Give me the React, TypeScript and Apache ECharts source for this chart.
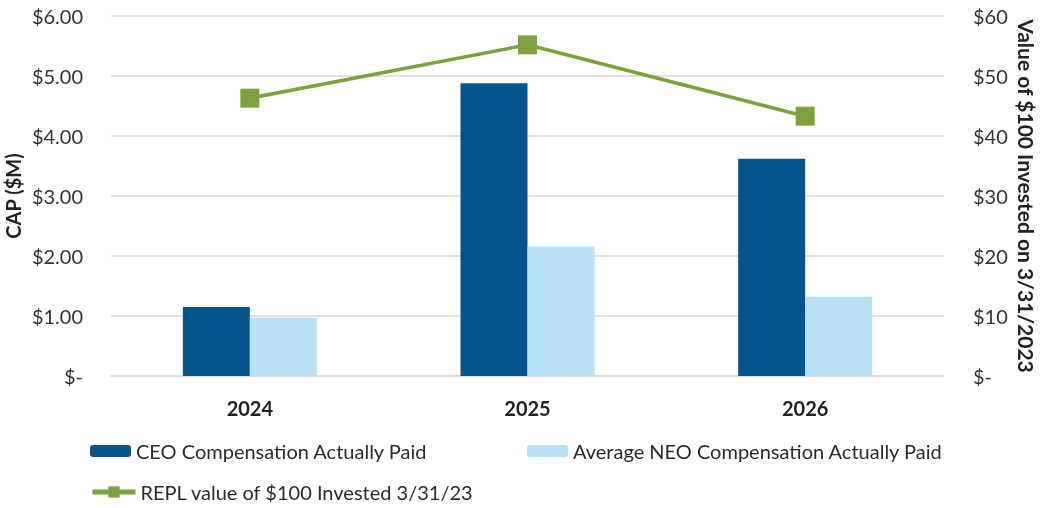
import React, { useEffect, useRef } from "react";
import * as echarts from "echarts";

const categories = ["2024", "2025", "2026"];
const ceoCap = [1.15, 4.88, 3.62];
const neoCap = [0.97, 2.16, 1.32];
const replValue = [46.3, 55.2, 43.3];

const leftTicks = ["$-", "$1.00", "$2.00", "$3.00", "$4.00", "$5.00", "$6.00"];
const rightTicks = ["$-", "$10", "$20", "$30", "$40", "$50", "$60"];

const FONT = "Lato, 'Open Sans', sans-serif";
const CEO_NAME = "CEO Compensation Actually Paid";
const NEO_NAME = "Average NEO Compensation Actually Paid";
const LINE_NAME = "REPL value of $100 Invested 3/31/23";

export default function App() {
  const ref = useRef<HTMLDivElement>(null);
  useEffect(() => {
    if (!ref.current) return;
    const chart = echarts.init(ref.current, null, { renderer: "svg" });
    const legendText = { fontFamily: FONT, fontSize: 20, color: "#2b2b2b" };
    chart.setOption({
      animation: false,
      textStyle: { fontFamily: FONT },
      grid: {
        left: 111,
        right: 96,
        top: 16,
        bottom: 132,
        containLabel: false,
        outerBoundsMode: "none",
      },
      legend: [
        {
          data: [CEO_NAME],
          left: 85,
          top: 436,
          itemWidth: 41,
          itemHeight: 12,
          textStyle: legendText,
          selectedMode: false,
        },
        {
          data: [NEO_NAME],
          left: 522,
          top: 436,
          itemWidth: 41,
          itemHeight: 12,
          textStyle: legendText,
          selectedMode: false,
        },
        {
          data: [LINE_NAME],
          left: 85,
          top: 477,
          itemWidth: 43,
          itemHeight: 14,
          lineStyle: { width: 5 },
          textStyle: legendText,
          selectedMode: false,
        },
      ],
      xAxis: {
        type: "category",
        data: categories,
        axisLine: { show: true, lineStyle: { color: "#d9d9d9", width: 1.5 } },
        axisTick: { show: false },
        axisLabel: {
          fontFamily: FONT,
          fontSize: 20,
          fontWeight: "bold",
          color: "#222",
          margin: 22,
        },
      },
      yAxis: [
        {
          type: "value",
          min: 0,
          max: 6,
          interval: 1,
          name: "CAP ($M)",
          nameLocation: "middle",
          nameRotate: 90,
          nameGap: 88,
          nameMoveOverlap: false,
          nameTextStyle: { fontFamily: FONT, fontSize: 20, fontWeight: "bold", color: "#222" },
          axisLine: { show: false },
          axisTick: { show: false },
          splitLine: { lineStyle: { color: "#d9d9d9", width: 1.5 } },
          axisLabel: {
            fontFamily: FONT,
            fontSize: 20,
            color: "#333",
            margin: 28,
            formatter: (v: number) => leftTicks[Math.round(v)],
          },
        },
        {
          type: "value",
          min: 0,
          max: 60,
          interval: 10,
          position: "right",
          name: "Value of $100 Invested on 3/31/2023",
          nameLocation: "middle",
          nameRotate: -90,
          nameGap: 72,
          nameMoveOverlap: false,
          nameTextStyle: { fontFamily: FONT, fontSize: 21, fontWeight: "bold", color: "#222" },
          axisLine: { show: false },
          axisTick: { show: false },
          splitLine: { show: false },
          axisLabel: {
            fontFamily: FONT,
            fontSize: 20,
            color: "#333",
            margin: 29,
            formatter: (v: number) => rightTicks[Math.round(v / 10)],
          },
        },
      ],
      series: [
        {
          name: CEO_NAME,
          type: "bar",
          data: ceoCap,
          yAxisIndex: 0,
          barWidth: 67,
          barGap: "0%",
          itemStyle: { color: "#03558c" },
        },
        {
          name: NEO_NAME,
          type: "bar",
          data: neoCap,
          yAxisIndex: 0,
          barWidth: 67,
          barGap: "0%",
          itemStyle: { color: "#b8e0f7" },
        },
        {
          name: LINE_NAME,
          type: "line",
          data: replValue,
          yAxisIndex: 1,
          symbol: "rect",
          symbolSize: 19,
          lineStyle: { color: "#7ba23f", width: 3.5 },
          itemStyle: { color: "#7ba23f" },
        },
      ],
    });
    return () => chart.dispose();
  }, []);
  return (
    <div
      ref={ref}
      style={{ position: "fixed", left: 0, top: 0, width: 1040, height: 508 }}
    />
  );
}
